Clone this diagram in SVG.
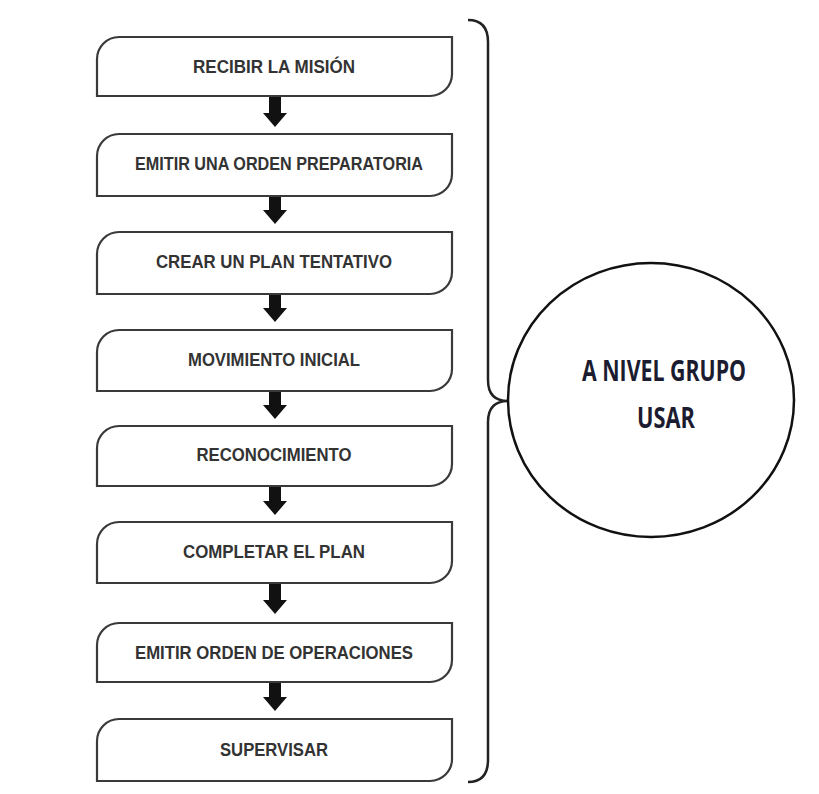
<svg xmlns="http://www.w3.org/2000/svg" width="819" height="794" viewBox="0 0 819 794">
<defs>
<style>
.box{fill:#fff;stroke:#3a3a3a;stroke-width:2.2}
.lbl{font-family:"Liberation Sans",Arial,sans-serif;font-weight:bold;font-size:19px;fill:#333;text-anchor:middle}
.arr{fill:#111}
.brace{fill:none;stroke:#222;stroke-width:2.5}
.circ{fill:#fff;stroke:#111;stroke-width:2.5}
.ctext{font-family:"Open Sans","Liberation Sans",sans-serif;font-weight:bold;font-size:28px;fill:#1c1c30;text-anchor:middle}
</style>
</defs>
<rect width="819" height="794" fill="#fff"/>
<g id="connectors">
<path class="arr" d="M269 96 H281 V113 H287 L275 127 L263 113 H269 Z"/>
<path class="arr" d="M269 196 H281 V210 H287 L275 224 L263 210 H269 Z"/>
<path class="arr" d="M269 294 H281 V308 H287 L275 322 L263 308 H269 Z"/>
<path class="arr" d="M269 391 H281 V405 H287 L275 419 L263 405 H269 Z"/>
<path class="arr" d="M269 486 H281 V501 H287 L275 515 L263 501 H269 Z"/>
<path class="arr" d="M269 583 H281 V600 H287 L275 614 L263 600 H269 Z"/>
<path class="arr" d="M269 682 H281 V697 H287 L275 711 L263 697 H269 Z"/>
<path class="brace" d="M468 20 Q488 20 488 42 L488 380 Q488 401 508 401 Q488 401 488 422 L488 760 Q488 782 468 782"/>
</g>
<g id="n1"><path class="box" d="M119 37 H452 V74 A22 22 0 0 1 430 96 H97 V59 A22 22 0 0 1 119 37 Z"/><text class="lbl" x="274" y="73" textLength="162" lengthAdjust="spacingAndGlyphs">RECIBIR LA MISIÓN</text></g>
<g id="n2"><path class="box" d="M119 134 H452 V174 A22 22 0 0 1 430 196 H97 V156 A22 22 0 0 1 119 134 Z"/><text class="lbl" x="279" y="170" textLength="288" lengthAdjust="spacingAndGlyphs">EMITIR UNA ORDEN PREPARATORIA</text></g>
<g id="n3"><path class="box" d="M119 232 H452 V272 A22 22 0 0 1 430 294 H97 V254 A22 22 0 0 1 119 232 Z"/><text class="lbl" x="274" y="268" textLength="236" lengthAdjust="spacingAndGlyphs">CREAR UN PLAN TENTATIVO</text></g>
<g id="n4"><path class="box" d="M119 330 H452 V369 A22 22 0 0 1 430 391 H97 V352 A22 22 0 0 1 119 330 Z"/><text class="lbl" x="274" y="366" textLength="172" lengthAdjust="spacingAndGlyphs">MOVIMIENTO INICIAL</text></g>
<g id="n5"><path class="box" d="M119 426 H452 V464 A22 22 0 0 1 430 486 H97 V448 A22 22 0 0 1 119 426 Z"/><text class="lbl" x="274" y="461" textLength="155" lengthAdjust="spacingAndGlyphs">RECONOCIMIENTO</text></g>
<g id="n6"><path class="box" d="M119 522 H452 V561 A22 22 0 0 1 430 583 H97 V544 A22 22 0 0 1 119 522 Z"/><text class="lbl" x="274" y="558" textLength="182" lengthAdjust="spacingAndGlyphs">COMPLETAR EL PLAN</text></g>
<g id="n7"><path class="box" d="M119 623 H452 V660 A22 22 0 0 1 430 682 H97 V645 A22 22 0 0 1 119 623 Z"/><text class="lbl" x="274" y="659" textLength="278" lengthAdjust="spacingAndGlyphs">EMITIR ORDEN DE OPERACIONES</text></g>
<g id="n8"><path class="box" d="M119 719 H452 V759 A22 22 0 0 1 430 781 H97 V741 A22 22 0 0 1 119 719 Z"/><text class="lbl" x="274" y="756" textLength="108" lengthAdjust="spacingAndGlyphs">SUPERVISAR</text></g>
<g id="group">
<ellipse class="circ" cx="651" cy="400" rx="143" ry="137"/>
<text class="ctext" x="664" y="381" textLength="164" lengthAdjust="spacingAndGlyphs">A NIVEL GRUPO</text>
<text class="ctext" x="666" y="428" textLength="58" lengthAdjust="spacingAndGlyphs">USAR</text>
</g>
</svg>
